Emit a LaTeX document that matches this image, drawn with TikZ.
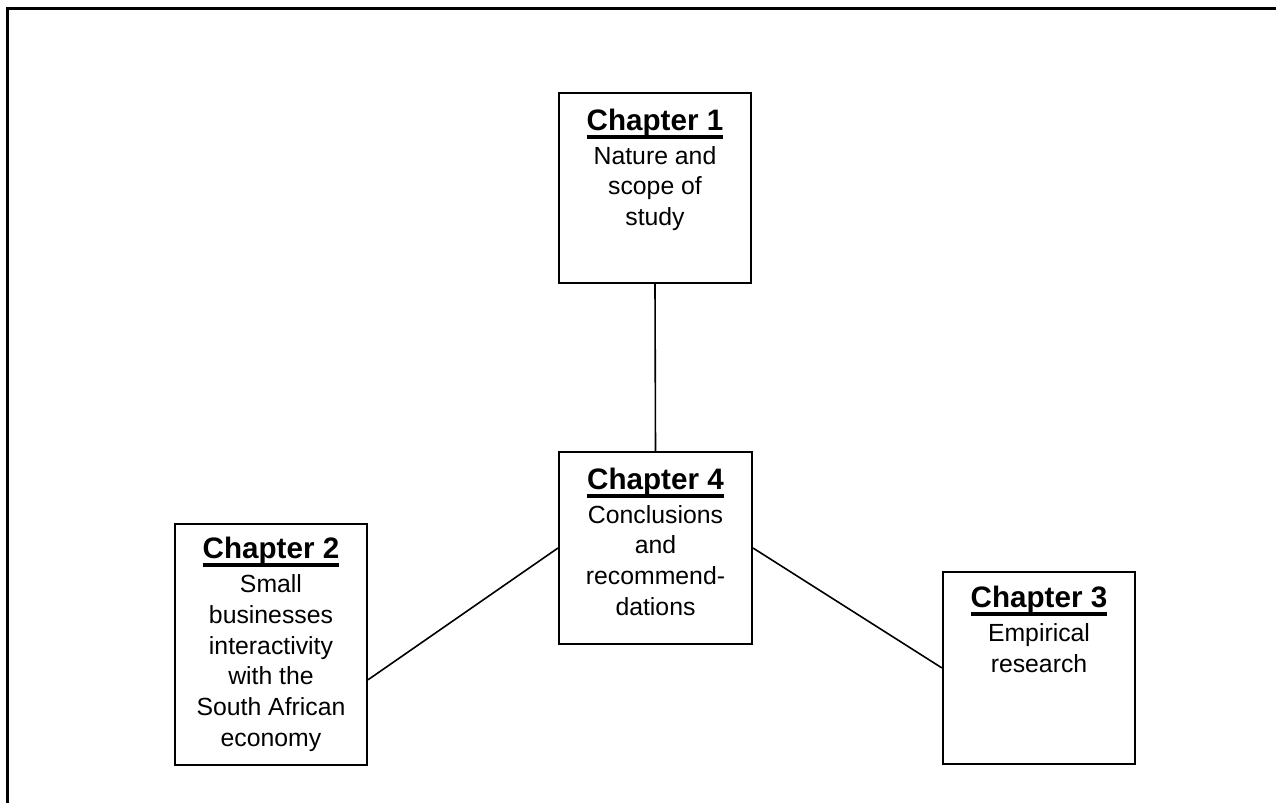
\documentclass[tikz,border=0pt]{standalone}
\usepackage{fontspec}
\setmainfont{Liberation Sans}
\usetikzlibrary{positioning}

\tikzset{
    chapbox/.style={draw, line width=1pt, minimum width=96pt, minimum height=#1, inner sep=0pt},
    chaptext/.style={align=center, inner sep=0pt, font=\fontsize{12.4}{15.4}\selectfont},
    link/.style={line width=0.8pt}
}
\newcommand{\chaphead}[1]{{\fontsize{14.8}{16}\selectfont\bfseries
    \setbox0=\hbox{#1}\rlap{\vrule width\wd0 height -2.2pt depth 4.1pt}\box0}}

\begin{document}
\begin{tikzpicture}[x=0.5pt, y=-0.5pt]
        \useasboundingbox (0,0) rectangle (1276,803);

        % frame
        \draw [line width=1.5pt] (7,803) -- (7,8) -- (1276,8);

        % boxes
        \node[chapbox=95pt] (ch1) at (655,188) {};
        \node[chapbox=96pt, minimum width=96.5pt] (ch4) at (655.5,548) {};
        \node[chapbox=120.5pt] (ch2) at (271,644.5) {};
        \node[chapbox=96pt] (ch3) at (1039,668) {};

        % texts
        \node[chaptext, below=8.3pt of ch1.north] (ch1text) {
            \chaphead{Chapter 1} \\[1.4pt]
            Nature and \\ scope of \\ study
        };
        \node[chaptext, below=8.3pt of ch4.north] (ch4text) {
            \chaphead{Chapter 4} \\[1.4pt]
            Conclusions \\ and \\ recommend- \\ dations
        };
        \node[chaptext, below=7pt of ch2.north] (ch2text) {
            \chaphead{Chapter 2} \\[1.4pt]
            Small \\ businesses \\ interactivity \\ with the \\ South African \\ economy
        };
        \node[chaptext, below=7.5pt of ch3.north] (ch3text) {
            \chaphead{Chapter 3} \\[1.4pt]
            Empirical \\ research
        };

        % connectors
        \draw [link] (ch1.south) -- (ch4.north);
        \draw [link] (ch4.west) -- (ch2.-20);
        \draw [link] (ch4.east) -- (ch3.west);

\end{tikzpicture}
\end{document}
